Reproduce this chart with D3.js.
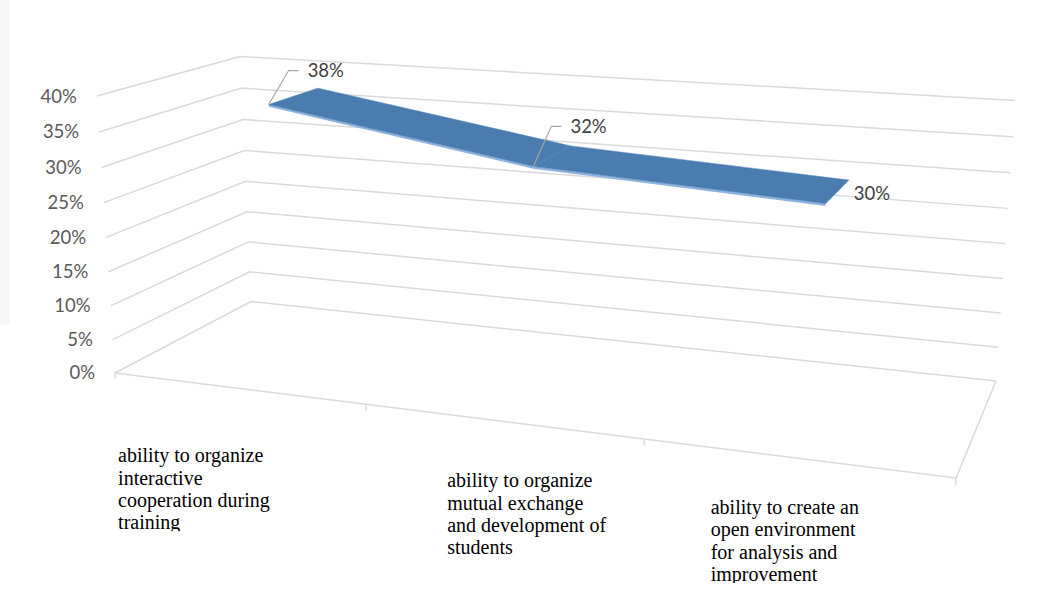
<!DOCTYPE html>
<html>
<head>
<meta charset="utf-8">
<script src="https://cdn.jsdelivr.net/npm/d3@7"></script>
<style>
  body { margin: 0; background: #fff; }
  svg { display: block; }
</style>
</head>
<body>
<div id="chart"></div>
<script>
// data
var categories = ["cat1", "cat2", "cat3"];
var categoryLines = [
  ["ability to organize", "interactive", "cooperation during", "training"],
  ["ability to organize", "mutual exchange", "and development of", "students"],
  ["ability to create an", "open environment", "for analysis and", "improvement"]
];
var values = [0.38, 0.32, 0.30];
var yTicks = [0, 0.05, 0.10, 0.15, 0.20, 0.25, 0.30, 0.35, 0.40];

var width = 1038, height = 606;

// screen corners of the 3d box (floor + top of walls)
var floor = [[115, 373], [956, 478], [996, 381], [251, 301.5]]; // (x0,z0) (x1,z0) (x1,z1) (x0,z1)
var tops = [[0, 0, 96, 97], [0, 1, 241, 56], [1, 1, 1015, 100]]; // x, z, sx, sy at max value

// square -> quad homography for the floor
function squareToQuad(q) {
  var x0 = q[0][0], y0 = q[0][1], x1 = q[1][0], y1 = q[1][1];
  var x2 = q[2][0], y2 = q[2][1], x3 = q[3][0], y3 = q[3][1];
  var dx1 = x1 - x2, dx2 = x3 - x2, dx3 = x0 - x1 + x2 - x3;
  var dy1 = y1 - y2, dy2 = y3 - y2, dy3 = y0 - y1 + y2 - y3;
  var den = dx1 * dy2 - dy1 * dx2;
  var g = (dx3 * dy2 - dy3 * dx2) / den;
  var h = (dx1 * dy3 - dy1 * dx3) / den;
  return {
    a: x1 - x0 + g * x1, b: x3 - x0 + h * x3, c: x0,
    d: y1 - y0 + g * y1, e: y3 - y0 + h * y3, f: y0,
    g: g, h: h
  };
}
var H = squareToQuad(floor);

// vertical column of the projection, least squares on the wall tops
function det3(m) {
  return m[0][0] * (m[1][1] * m[2][2] - m[1][2] * m[2][1])
       - m[0][1] * (m[1][0] * m[2][2] - m[1][2] * m[2][0])
       + m[0][2] * (m[1][0] * m[2][1] - m[1][1] * m[2][0]);
}
var rows = [], rhs = [];
tops.forEach(function(t) {
  var X = t[0], Z = t[1], sx = t[2], sy = t[3];
  var D0 = H.g * X + H.h * Z + 1;
  rows.push([1, 0, -sx]); rhs.push(sx * D0 - (H.a * X + H.b * Z + H.c));
  rows.push([0, 1, -sy]); rhs.push(sy * D0 - (H.d * X + H.e * Z + H.f));
});
var M = [[0, 0, 0], [0, 0, 0], [0, 0, 0]], v = [0, 0, 0];
rows.forEach(function(r, k) {
  for (var i = 0; i < 3; i++) {
    v[i] += r[i] * rhs[k];
    for (var j = 0; j < 3; j++) M[i][j] += r[i] * r[j];
  }
});
var dM = det3(M), P = [];
for (var c = 0; c < 3; c++) {
  var Mc = M.map(function(r, i) { return r.map(function(val, j) { return j == c ? v[i] : val; }); });
  P.push(det3(Mc) / dM);
}

function project(X, Y, Z) {
  var den = H.g * X + H.h * Z + 1 + P[2] * Y;
  return [(H.a * X + H.b * Z + H.c + P[0] * Y) / den,
          (H.d * X + H.e * Z + H.f + P[1] * Y) / den];
}

// scales
var xBand = d3.scaleBand().domain(categories).range([0, 1]);
var yScale = d3.scaleLinear().domain([0, 0.4]).range([0, 1]);
function xCenter(c) { return xBand(c) + xBand.bandwidth() / 2; }

var ribbonFront = 0.31, ribbonBack = 0.69;

var svg = d3.select("#chart").append("svg").attr("width", width).attr("height", height);

svg.append("rect").attr("x", 0).attr("y", 0).attr("width", 10).attr("height", 325).attr("fill", "#f6f6f6");

var line = d3.line();
var grid = svg.append("g").attr("fill", "none").attr("stroke", "#d9d9d9").attr("stroke-width", 1.5);

// side wall + back wall gridlines
yTicks.forEach(function(t) {
  var Y = yScale(t);
  grid.append("path").attr("d", line([project(0, Y, 0), project(0, Y, 1), project(1, Y, 1)]));
});
// floor front and right edge
grid.append("path").attr("d", line([project(0, 0, 0), project(1, 0, 0), project(1, 0, 1)]));
// category ticks
var tickX = categories.map(function(c) { return xBand(c); }).concat([1]);
tickX.forEach(function(X) {
  grid.append("path").attr("d", line([project(X, 0, 0), project(X, -0.022, 0)]));
});

// value axis labels
var fmt = d3.format(".0%");
svg.append("g").selectAll("text").data(yTicks).enter().append("text")
  .attr("x", function(d) { return project(0, yScale(d), 0)[0] - 20; })
  .attr("y", function(d) { return project(0, yScale(d), 0)[1]; })
  .attr("dy", "0.35em")
  .attr("text-anchor", "end")
  .attr("font-family", "Lato, 'Open Sans', sans-serif")
  .attr("font-size", 18.5)
  .attr("fill", "#595959")
  .text(function(d) { return fmt(d); });

// ribbon
var ribbon = svg.append("g");
for (var i = 0; i < values.length - 1; i++) {
  var X0 = xCenter(categories[i]), X1 = xCenter(categories[i + 1]);
  var Y0 = yScale(values[i]), Y1 = yScale(values[i + 1]);
  ribbon.append("path")
    .attr("d", line([project(X0, Y0 - 0.008, ribbonFront), project(X1, Y1 - 0.008, ribbonFront),
                     project(X1, Y1, ribbonFront), project(X0, Y0, ribbonFront)]) + "Z")
    .attr("fill", "#8db4e0");
  ribbon.append("path")
    .attr("d", line([project(X0, Y0, ribbonFront), project(X1, Y1, ribbonFront),
                     project(X1, Y1, ribbonBack), project(X0, Y0, ribbonBack)]) + "Z")
    .attr("fill", "#4a7cb0")
    .attr("stroke", "#4a7cb0").attr("stroke-width", 0.5);
}

// data labels
var labelOffset = [[39, -34, true], [37, -40, true], [28, -10, false]];
var lbl = svg.append("g");
values.forEach(function(d, i) {
  var p = project(xCenter(categories[i]), yScale(d), ribbonFront);
  var o = labelOffset[i];
  if (o[2]) {
    lbl.append("path")
      .attr("d", line([p, [p[0] + o[0] - 19, p[1] + o[1]], [p[0] + o[0] - 9, p[1] + o[1]]]))
      .attr("fill", "none").attr("stroke", "#a6a6a6").attr("stroke-width", 1.2);
  }
  lbl.append("text")
    .attr("x", p[0] + o[0]).attr("y", p[1] + o[1])
    .attr("dy", "0.35em")
    .attr("font-family", "Lato, 'Open Sans', sans-serif")
    .attr("font-size", 18.5)
    .attr("fill", "#404040")
    .text(fmt(d));
});

// category labels
var catOffset = [[-119, 74], [-54, 66], [-85, 56]];
var catG = svg.append("g");
categories.forEach(function(c, i) {
  var p = project(xCenter(c), 0, 0);
  var x0 = p[0] + catOffset[i][0], y0 = p[1] + catOffset[i][1];
  var lines = categoryLines[i];
  var clipId = "clip" + i;
  svg.append("clipPath").attr("id", clipId).append("rect")
    .attr("x", x0 - 5).attr("y", y0 - 25).attr("width", 200)
    .attr("height", 25 + (lines.length - 1) * 22.3 + 2);
  catG.append("text")
    .attr("clip-path", "url(#" + clipId + ")")
    .attr("font-family", "'Liberation Serif', 'Times New Roman', serif")
    .attr("font-size", 20)
    .attr("fill", "#000")
    .selectAll("tspan").data(lines).enter().append("tspan")
    .attr("x", x0)
    .attr("y", function(d, k) { return y0 + k * 22.3; })
    .text(function(d) { return d; });
});
</script>
</body>
</html>
